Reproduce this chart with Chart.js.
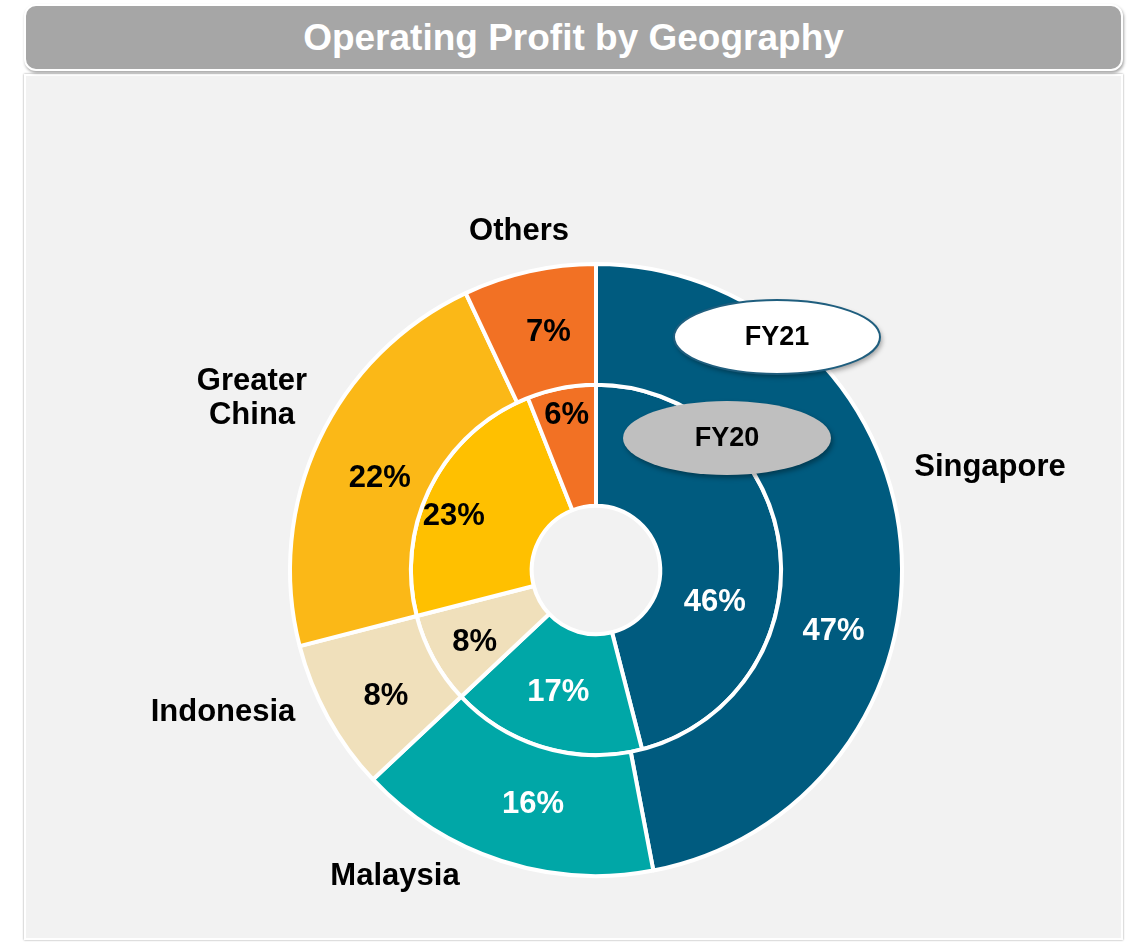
<!DOCTYPE html>
<html>
<head>
<meta charset="utf-8">
<script src="https://cdn.jsdelivr.net/npm/chart.js@4"></script>
<style>
  html, body { margin: 0; padding: 0; background: #ffffff; width: 1127px; height: 944px; overflow: hidden; }
  #header {
    position: absolute; left: 24px; top: 4px; width: 1095px; height: 63px;
    background: #a6a6a6; border: 2px solid #ffffff; border-radius: 12px;
    box-shadow: 1px 2px 3px rgba(0,0,0,0.35);
    color: #ffffff; font: bold 37px "Liberation Sans", Arial, sans-serif;
    display: flex; align-items: center; justify-content: center;
  }
  #panel {
    position: absolute; left: 24px; top: 74px; width: 1095px; height: 862px;
    background: #f2f2f2; border: 2px solid #ffffff;
    box-shadow: 0 0 2px rgba(0,0,0,0.4);
  }
  #c { position: absolute; left: 0; top: 0; }
</style>
</head>
<body>
<div id="panel"></div>
<div id="header">Operating Profit by Geography</div>
<canvas id="c" width="1127" height="944"></canvas>
<script>
// ---- data ----
const title = 'Operating Profit by Geography';
const categories = ['Singapore', 'Malaysia', 'Indonesia', 'Greater China', 'Others'];
const seriesNames = ['FY21', 'FY20'];
const fy21 = [47, 16, 8, 22, 7];
const fy20 = [46, 17, 8, 23, 6];

// ---- styles / layout ----
const colorsFY21 = ['#005b7f', '#00a7a7', '#f0e0bb', '#fbb817', '#f27124'];
const colorsFY20 = ['#005b7f', '#00a7a7', '#f0e0bb', '#ffc000', '#f27124'];
const textColors = ['#ffffff', '#ffffff', '#000000', '#000000', '#000000'];
const FONT = '"Liberation Sans", Arial, sans-serif';
// small nudges (px) from each arc centroid for value labels
const nudgeOuter = [[-7, 85], [13, 1], [5, 8], [6, 13], [6, 2]];
const nudgeInner = [[-5, 48], [-3, 3], [-12, 12], [-31, 3], [-6, -32]];
// category label anchor positions, relative to chart centre
const catLabelPos = [[394, -103], [-201, 306], [-373, 142], [-344, -172], [-77, -339]];
// series bubble positions, relative to chart centre
const bubbles = [
  { dx: 181, dy: -233, rx: 103, ry: 37, fill: '#ffffff', stroke: '#1f5e7e' },
  { dx: 131, dy: -132, rx: 104, ry: 37, fill: '#bfbfbf', stroke: null }
];

const labelsPlugin = {
  id: 'labels',
  afterDatasetsDraw(chart) {
    const ctx = chart.ctx;
    const ca = chart.chartArea;
    const cx = (ca.left + ca.right) / 2, cy = (ca.top + ca.bottom) / 2;
    ctx.save();
    ctx.textAlign = 'center';
    ctx.textBaseline = 'middle';
    // value labels
    chart.data.datasets.forEach((ds, di) => {
      const meta = chart.getDatasetMeta(di);
      const nudges = di === 0 ? nudgeOuter : nudgeInner;
      meta.data.forEach((arc, i) => {
        const p = arc.getCenterPoint();
        ctx.font = 'bold 31px ' + FONT;
        ctx.fillStyle = textColors[i];
        ctx.fillText(ds.data[i] + '%', p.x + nudges[i][0], p.y + nudges[i][1]);
      });
    });
    // category labels
    ctx.fillStyle = '#000000';
    ctx.font = 'bold 31px ' + FONT;
    categories.forEach((name, i) => {
      const [dx, dy] = catLabelPos[i];
      const words = name.split(' ');
      const lh = 34;
      words.forEach((w, k) => {
        ctx.fillText(w, cx + dx, cy + dy + (k - (words.length - 1) / 2) * lh);
      });
    });
    // series bubbles
    bubbles.forEach((b, i) => {
      const x = cx + b.dx, y = cy + b.dy;
      ctx.save();
      ctx.shadowColor = 'rgba(0,0,0,0.35)';
      ctx.shadowBlur = 5;
      ctx.shadowOffsetX = 2;
      ctx.shadowOffsetY = 3;
      ctx.beginPath();
      ctx.ellipse(x, y, b.rx, b.ry, 0, 0, Math.PI * 2);
      ctx.fillStyle = b.fill;
      ctx.fill();
      ctx.restore();
      if (b.stroke) {
        ctx.beginPath();
        ctx.ellipse(x, y, b.rx, b.ry, 0, 0, Math.PI * 2);
        ctx.strokeStyle = b.stroke;
        ctx.lineWidth = 2;
        ctx.stroke();
      }
      ctx.fillStyle = '#000000';
      ctx.font = 'bold 27px ' + FONT;
      ctx.fillText(seriesNames[i], x, y + 1);
    });
    ctx.restore();
  }
};

new Chart(document.getElementById('c'), {
  type: 'doughnut',
  data: {
    labels: categories,
    datasets: [
      { label: seriesNames[0], data: fy21, backgroundColor: colorsFY21, borderColor: '#ffffff', borderWidth: 4 },
      { label: seriesNames[1], data: fy20, backgroundColor: colorsFY20, borderColor: '#ffffff', borderWidth: 4 }
    ]
  },
  options: {
    responsive: false,
    animation: false,
    cutout: '21%',
    layout: { padding: { left: 288, right: 223, top: 262, bottom: 66 } },
    plugins: { legend: { display: false }, tooltip: { enabled: false }, title: { display: false } }
  },
  plugins: [labelsPlugin]
});
</script>
</body>
</html>
